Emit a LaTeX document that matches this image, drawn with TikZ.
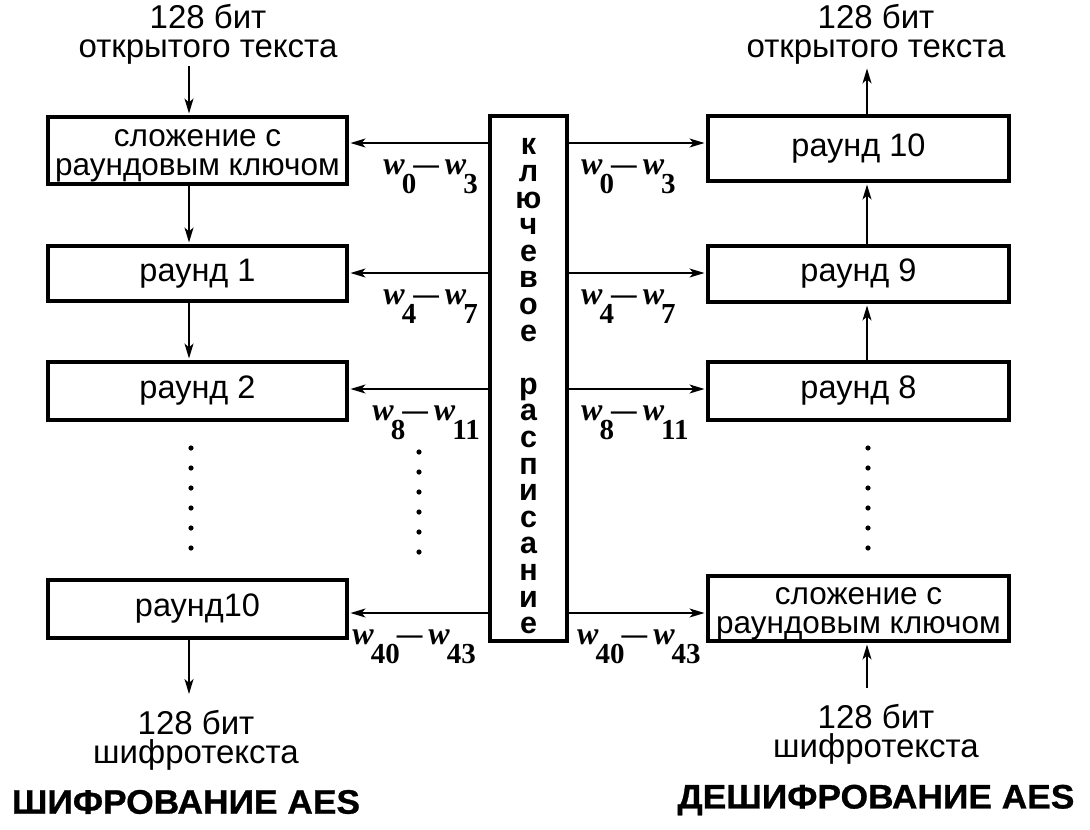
\documentclass[tikz,border=0pt]{standalone}
\usepackage{fontspec}
\setmainfont{Liberation Sans}
\newfontfamily\wfont{Liberation Serif}
\newfontfamily\titlefont[FakeStretch=1.04,FakeBold=0.8]{Liberation Sans}
\usetikzlibrary{arrows.meta}
\newcommand\wsub[1]{\raisebox{-19pt}{\fontsize{29}{29}\selectfont #1}}
\newcommand\wlab[2]{\textit{w}\kern-3pt\wsub{#1}\kern-3pt\scalebox{0.8}[1]{—}\kern6pt\textit{w}\kern-3pt\wsub{#2}}
\tikzset{
  box/.style={draw, line width=4pt, inner sep=0pt, align=center, font=\fontsize{32.5}{30}\selectfont},
  arr/.style={-{Stealth[length=15pt,width=9pt,inset=4pt]}, line width=1.5pt},
  txt/.style={inner sep=0pt, align=center, font=\fontsize{33}{29}\selectfont},
  boxtxt/.style={inner sep=0pt, align=center, font=\fontsize{31.5}{29}\selectfont},
  wl/.style={inner sep=0pt, font=\wfont\bfseries\fontsize{32}{32}\selectfont},
  keytxt/.style={inner sep=0pt, align=center, font=\bfseries\fontsize{30.5}{26.6}\selectfont},
  titletxt/.style={inner sep=0pt, font=\titlefont\bfseries\fontsize{34}{34}\selectfont},
  dot/.style={fill=black}
}
\begin{document}
\begin{tikzpicture}[x=1pt,y=-1pt]
\useasboundingbox[fill=white] (0,0) rectangle (1090,830);
% column coordinates
\coordinate (lx) at (189,0);
\coordinate (rx) at (867,0);
\coordinate (y0) at (0,143);
\coordinate (y1) at (0,273);
\coordinate (y2) at (0,389);
\coordinate (y3) at (0,613);
% encryption boxes
\node[box, minimum width=299, minimum height=67] (e0) at (197.5,150.5) {};
\node[boxtxt] (e0t) at ([yshift=-5pt]e0.center) {сложение с\\раундовым ключом};
\node[box, minimum width=299, minimum height=55] (e1) at (197.5,273.5) {раунд 1};
\node[box, minimum width=299, minimum height=58] (e2) at (197.5,391) {раунд 2};
\node[box, minimum width=299, minimum height=58] (e10) at (197.5,609) {раунд10};
% decryption boxes
\node[box, minimum width=301, minimum height=65] (d10) at (858.5,148.5) {раунд 10};
\node[box, minimum width=301, minimum height=56] (d9) at (858.5,274) {раунд 9};
\node[box, minimum width=301, minimum height=58] (d8) at (858.5,391) {раунд 8};
\node[box, minimum width=301, minimum height=65] (d0) at (858.5,608.5) {};
\node[boxtxt] (d0t) at ([yshift=-5pt]d0.center) {сложение с\\раундовым ключом};
% key schedule
\node[box, minimum width=77, minimum height=525] (key) at (528.5,378.5) {};
\node[keytxt] (keyt) at (528.5,386.4) {к\\л\\ю\\ч\\е\\в\\о\\е\\[26.6pt]р\\а\\с\\п\\и\\с\\а\\н\\и\\е};
% texts
\node[txt, anchor=north] (tl) at (208,4) {128 бит\\открытого текста};
\node[txt, anchor=north] (tr) at (876,4) {128 бит\\открытого текста};
\node[txt, anchor=north] (bl) at (196,710) {128 бит\\шифротекста};
\node[txt, anchor=north] (br) at (876,704) {128 бит\\шифротекста};
\node[titletxt] (t1) at (186,802) {ШИФРОВАНИЕ AES};
\node[titletxt] (t2) at (876,800) {ДЕШИФРОВАНИЕ AES};
% vertical arrows, encryption
\draw[arr, shorten <=2pt, shorten >=1.5pt] (tl.south -| lx) -- (e0.north -| lx);
\draw[arr, shorten >=1.5pt] (e0.south -| lx) -- (e1.north -| lx);
\draw[arr, shorten >=1.5pt] (e1.south -| lx) -- (e2.north -| lx);
\draw[arr, shorten >=16pt] (e10.south -| lx) -- (bl.north -| lx);
% vertical arrows, decryption
\draw[arr, shorten >=4pt] (d10.north -| rx) -- (tr.south -| rx);
\draw[arr, shorten >=1.5pt] (d9.north -| rx) -- (d10.south -| rx);
\draw[arr, shorten >=1.5pt] (d8.north -| rx) -- (d9.south -| rx);
\draw[arr, shorten <=16pt, shorten >=1.5pt] (br.north -| rx) -- (d0.south -| rx);
% horizontal arrows
\draw[arr, shorten >=1.5pt] (key.west |- y0) -- (e0.east |- y0);
\draw[arr, shorten >=1.5pt] (key.west |- y1) -- (e1.east |- y1);
\draw[arr, shorten >=1.5pt] (key.west |- y2) -- (e2.east |- y2);
\draw[arr, shorten >=1.5pt] (key.west |- y3) -- (e10.east |- y3);
\draw[arr, shorten >=1.5pt] (key.east |- y0) -- (d10.west |- y0);
\draw[arr, shorten >=1.5pt] (key.east |- y1) -- (d9.west |- y1);
\draw[arr, shorten >=1.5pt] (key.east |- y2) -- (d8.west |- y2);
\draw[arr, shorten >=1.5pt] (key.east |- y3) -- (d0.west |- y3);
% labels
\node[wl, anchor=north east] (lw0) at (478,160) {\wlab{0}{3}};
\node[wl, anchor=north east] (lw1) at (478,290) {\wlab{4}{7}};
\node[wl, anchor=north east] (lw2) at (480,406) {\wlab{8}{11}};
\node[wl, anchor=north east] (lw3) at (476,630) {\wlab{40}{43}};
\node[wl, anchor=north west] (rw0) at (581,160) {\wlab{0}{3}};
\node[wl, anchor=north west] (rw1) at (581,290) {\wlab{4}{7}};
\node[wl, anchor=north west] (rw2) at (581,406) {\wlab{8}{11}};
\node[wl, anchor=north west] (rw3) at (577,630) {\wlab{40}{43}};
% dots
\foreach \k in {0,...,5} {
  \fill[dot] (191,{448+20*\k}) circle (2.6);
  \fill[dot] (419,{452+20*\k}) circle (2.6);
  \fill[dot] (868,{448+20*\k}) circle (2.6);
}
\end{tikzpicture}
\end{document}
